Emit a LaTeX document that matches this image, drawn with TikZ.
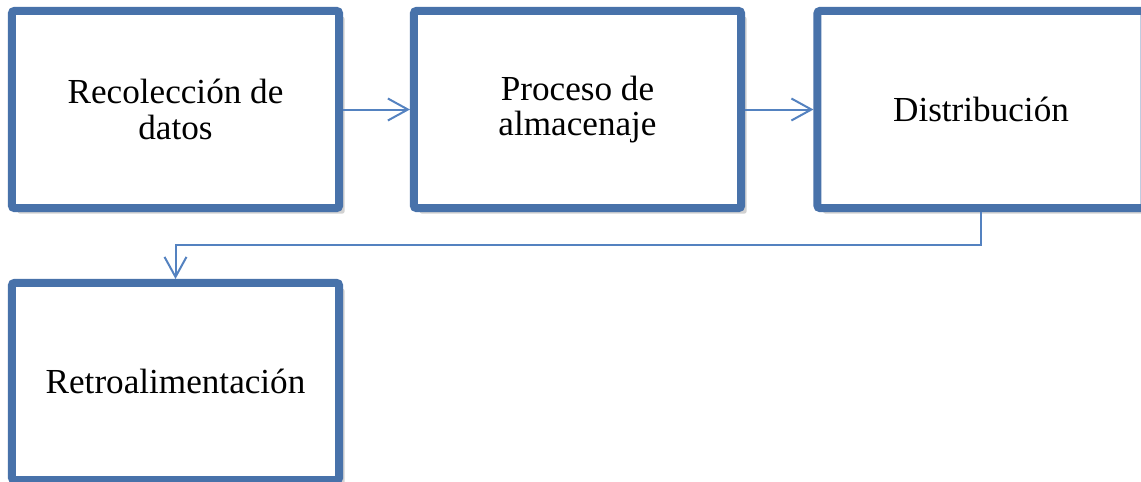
\documentclass[tikz,border=0pt]{standalone}
\usepackage{fontspec}
\setmainfont{Liberation Serif}
\usetikzlibrary{arrows.meta,shadows}
\definecolor{boxblue}{RGB}{72,114,170}
\definecolor{lineblue}{RGB}{84,130,192}
\begin{document}
\begin{tikzpicture}[x=0.025cm, y=-0.025cm,
  stagebox/.style={draw=boxblue, line width=0.2cm, fill=white, rounded corners=0.06cm,
    minimum width=8.175cm, minimum height=4.925cm, align=center,
    font=\fontsize{25}{25.5}\selectfont,
    drop shadow={shadow xshift=0.14cm, shadow yshift=-0.14cm, fill=black, opacity=0.18}},
  flow/.style={draw=lineblue, line width=0.05cm, -{Straight Barb[length=0.5cm, width=0.55cm, line width=0.05cm]}}]
\useasboundingbox (0,0) rectangle (1141,481);
\node[stagebox] (recoleccion) at (175.5,109.5) {Recolección de\\datos};
\node[stagebox] (almacenaje) at (577.5,109.5) {Proceso de\\almacenaje};
\node[stagebox] (distribucion) at (981,109.5) {Distribución};
\node[stagebox] (retro) at (175.5,381.5) {Retroalimentación};
\draw[flow] (recoleccion.east) -- (almacenaje.west);
\draw[flow] (almacenaje.east) -- (distribucion.west);
\draw[flow] (distribucion.south) -- ++(0,33) -| (retro.north);
\end{tikzpicture}
\end{document}
